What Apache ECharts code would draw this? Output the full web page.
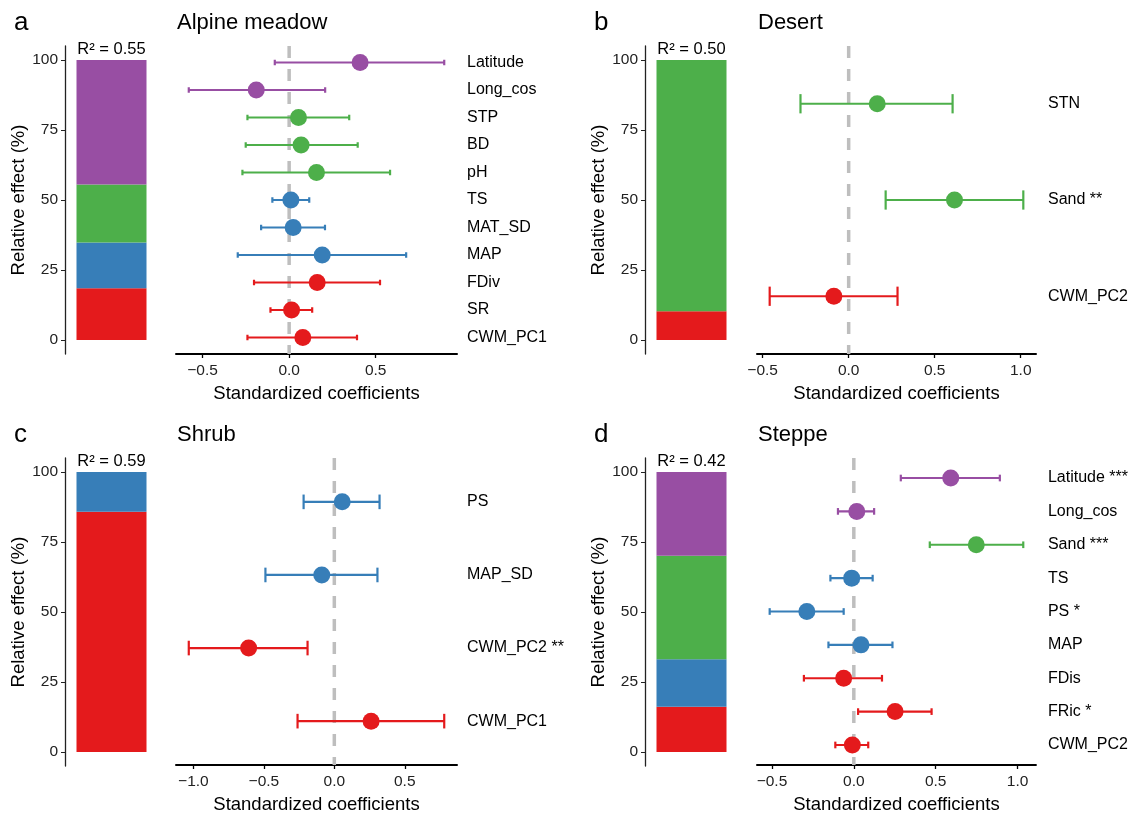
<!DOCTYPE html>
<html>
<head>
<meta charset="utf-8">
<script src="https://cdn.jsdelivr.net/npm/echarts@6.0.0/dist/echarts.min.js"></script>
<style>
html, body { margin: 0; padding: 0; background: #fff; }
#chart { width: 1131px; height: 815px; }
</style>
</head>
<body>
<div id="chart"></div>
<script>
var FONT = '"Liberation Sans", Arial, Helvetica, sans-serif';
// groups, bottom to top of the stacked bar
var GROUPS = ['plant', 'climate', 'soil', 'space'];
var COLORS = { plant: '#E41A1C', climate: '#377EB8', soil: '#4DAF4A', space: '#984EA3' };

// a  Alpine meadow
var aVars  = ['Latitude', 'Long_cos', 'STP', 'BD', 'pH', 'TS', 'MAT_SD', 'MAP', 'FDiv', 'SR', 'CWM_PC1'];
var aSig   = ['', '', '', '', '', '', '', '', '', '', ''];
var aGroup = ['space', 'space', 'soil', 'soil', 'soil', 'climate', 'climate', 'climate', 'plant', 'plant', 'plant'];
var aEst   = [0.41, -0.19, 0.054, 0.069, 0.158, 0.01, 0.023, 0.191, 0.162, 0.014, 0.079];
var aLow   = [-0.083, -0.58, -0.241, -0.251, -0.27, -0.097, -0.162, -0.297, -0.203, -0.108, -0.241];
var aHigh  = [0.896, 0.208, 0.347, 0.396, 0.583, 0.116, 0.207, 0.676, 0.525, 0.133, 0.392];
var aShare = [18.5, 16.3, 20.7, 44.5];
var aR2    = '0.55';
var aTicks = [-0.5, 0, 0.5];

// b  Desert
var bVars  = ['STN', 'Sand', 'CWM_PC2'];
var bSig   = ['', '**', ''];
var bGroup = ['soil', 'soil', 'plant'];
var bEst   = [0.166, 0.615, -0.086];
var bLow   = [-0.28, 0.215, -0.459];
var bHigh  = [0.604, 1.015, 0.284];
var bShare = [10.3, 0, 89.7, 0];
var bR2    = '0.50';
var bTicks = [-0.5, 0, 0.5, 1.0];

// c  Shrub
var cVars  = ['PS', 'MAP_SD', 'CWM_PC2', 'CWM_PC1'];
var cSig   = ['', '', '**', ''];
var cGroup = ['climate', 'climate', 'plant', 'plant'];
var cEst   = [0.056, -0.089, -0.608, 0.261];
var cLow   = [-0.218, -0.489, -1.033, -0.261];
var cHigh  = [0.321, 0.306, -0.19, 0.78];
var cShare = [85.8, 14.2, 0, 0];
var cR2    = '0.59';
var cTicks = [-1.0, -0.5, 0, 0.5];

// d  Steppe
var dVars  = ['Latitude', 'Long_cos', 'Sand', 'TS', 'PS', 'MAP', 'FDis', 'FRic', 'CWM_PC2'];
var dSig   = ['***', '', '***', '', '*', '', '', '*', ''];
var dGroup = ['space', 'space', 'soil', 'climate', 'climate', 'climate', 'plant', 'plant', 'plant'];
var dEst   = [0.592, 0.018, 0.748, -0.013, -0.287, 0.044, -0.062, 0.252, -0.009];
var dLow   = [0.287, -0.097, 0.464, -0.143, -0.514, -0.155, -0.305, 0.026, -0.113];
var dHigh  = [0.892, 0.124, 1.035, 0.115, -0.062, 0.236, 0.172, 0.475, 0.088];
var dShare = [16.2, 16.9, 37.0, 29.9];
var dR2    = '0.42';
var dTicks = [-0.5, 0, 0.5, 1.0];

// layout: bar axis x, forest left, forest right, top, bottom
var panels = [
    { letter: 'a', title: 'Alpine meadow', vars: aVars, sig: aSig, group: aGroup, est: aEst, lo: aLow, hi: aHigh, share: aShare, r2: aR2, ticks: aTicks, box: [65, 176, 457, 46, 354], labelGap: 10 },
    { letter: 'b', title: 'Desert', vars: bVars, sig: bSig, group: bGroup, est: bEst, lo: bLow, hi: bHigh, share: bShare, r2: bR2, ticks: bTicks, box: [645, 757, 1036, 46, 354], labelGap: 12 },
    { letter: 'c', title: 'Shrub', vars: cVars, sig: cSig, group: cGroup, est: cEst, lo: cLow, hi: cHigh, share: cShare, r2: cR2, ticks: cTicks, box: [65, 176, 457, 458, 766], labelGap: 10 },
    { letter: 'd', title: 'Steppe', vars: dVars, sig: dSig, group: dGroup, est: dEst, lo: dLow, hi: dHigh, share: dShare, r2: dR2, ticks: dTicks, box: [645, 757, 1036, 458, 766], labelGap: 12 }
];

function fmtTick(v) {
    var s = Math.abs(v).toFixed(1);
    return v < 0 ? '\u2212' + s : s;
}

function renderErrorBar(params, api) {
    var row = api.value(2);
    var lo = api.coord([api.value(0), row]);
    var hi = api.coord([api.value(1), row]);
    var capEdge = api.coord([api.value(0), row - 0.1]);
    var h = Math.abs(lo[1] - capEdge[1]);
    var style = { stroke: api.visual('color'), lineWidth: 2.2, fill: null };
    return {
        type: 'group',
        children: [
            { type: 'line', shape: { x1: lo[0], y1: lo[1], x2: hi[0], y2: hi[1] }, style: style },
            { type: 'line', shape: { x1: lo[0], y1: lo[1] - h, x2: lo[0], y2: lo[1] + h }, style: style },
            { type: 'line', shape: { x1: hi[0], y1: hi[1] - h, x2: hi[0], y2: hi[1] + h }, style: style }
        ]
    };
}

var titles = [], grids = [], xAxes = [], yAxes = [], series = [];

panels.forEach(function (p, i) {
    var b = p.box;
    var n = p.vars.length;
    var bi = 2 * i, fi = 2 * i + 1;

    titles.push({ text: p.letter, left: b[0] - 51, top: b[3] - 36, padding: 0,
        textStyle: { fontFamily: FONT, fontSize: 26, fontWeight: 'normal', color: '#000' } });
    titles.push({ text: p.title, left: b[1] + 1, top: b[3] - 34, padding: 0,
        textStyle: { fontFamily: FONT, fontSize: 22, fontWeight: 'normal', color: '#000' } });

    // stacked relative-effect bar
    grids.push({ left: b[0], top: b[3], width: 93, height: b[4] - b[3] });
    xAxes.push({ type: 'category', gridIndex: bi, data: [''], show: false });
    yAxes.push({
        type: 'value', gridIndex: bi, min: -5, max: 105,
        name: 'Relative effect (%)', nameLocation: 'middle', nameGap: 37, nameRotate: 90,
        nameTextStyle: { fontFamily: FONT, fontSize: 18.5, color: '#000' },
        axisLine: { show: true, lineStyle: { color: '#222', width: 1.3 } },
        axisTick: { show: true, length: 4, customValues: [0, 25, 50, 75, 100], lineStyle: { color: '#222' } },
        axisLabel: { customValues: [0, 25, 50, 75, 100], margin: 7, fontFamily: FONT, fontSize: 15.5, color: '#222' },
        splitLine: { show: false }
    });
    var topIdx = -1;
    p.share.forEach(function (v, k) { if (v > 0) topIdx = k; });
    GROUPS.forEach(function (g, k) {
        series.push({
            type: 'bar', xAxisIndex: bi, yAxisIndex: bi, stack: 'rel' + i,
            data: [p.share[k]], barWidth: 70,
            itemStyle: { color: COLORS[g] },
            label: {
                show: k === topIdx, position: 'top', distance: 2,
                formatter: 'R\u00b2 = ' + p.r2,
                fontFamily: FONT, fontSize: 16.5, color: '#000'
            }
        });
    });

    // coefficient plot
    var lo = Math.min.apply(null, p.lo), hi = Math.max.apply(null, p.hi);
    var pad = (hi - lo) * 0.05;
    grids.push({ left: b[1], top: b[3], width: b[2] - b[1], height: b[4] - b[3] });
    xAxes.push({
        type: 'value', gridIndex: fi, min: lo - pad, max: hi + pad,
        name: 'Standardized coefficients', nameLocation: 'middle', nameGap: 30,
        nameTextStyle: { fontFamily: FONT, fontSize: 18.5, color: '#000' },
        axisLine: { show: true, onZero: false, lineStyle: { color: '#000', width: 2 } },
        axisTick: { show: true, length: 4, customValues: p.ticks, lineStyle: { color: '#000', width: 1.3 } },
        axisLabel: { customValues: p.ticks, formatter: fmtTick, margin: 9, fontFamily: FONT, fontSize: 15.5, color: '#222' },
        splitLine: { show: false }
    });
    var rows = p.vars.map(function (v, k) { return k + 1; });
    yAxes.push({
        type: 'value', gridIndex: fi, min: 0.4, max: n + 0.6, inverse: true, position: 'right',
        axisLine: { show: false }, axisTick: { show: false }, splitLine: { show: false },
        axisLabel: {
            customValues: rows, margin: p.labelGap, fontFamily: FONT, fontSize: 16, color: '#000',
            formatter: function (v) { var k = Math.round(v) - 1; return p.vars[k] + (p.sig[k] ? ' ' + p.sig[k] : ''); }
        }
    });

    series.push({
        type: 'line', xAxisIndex: fi, yAxisIndex: fi, z: 1, silent: true, symbol: 'none',
        data: [[0, 0.4], [0, n + 0.6]],
        lineStyle: { color: '#BEBEBE', width: 3.5, type: [12, 11] }
    });
    series.push({
        type: 'custom', xAxisIndex: fi, yAxisIndex: fi, z: 2, renderItem: renderErrorBar,
        encode: { x: [0, 1], y: 2 },
        data: p.vars.map(function (v, k) {
            return { value: [p.lo[k], p.hi[k], k + 1], itemStyle: { color: COLORS[p.group[k]] } };
        })
    });
    series.push({
        type: 'scatter', xAxisIndex: fi, yAxisIndex: fi, z: 3, symbolSize: 17,
        data: p.vars.map(function (v, k) {
            return { value: [p.est[k], k + 1], itemStyle: { color: COLORS[p.group[k]], opacity: 1 } };
        })
    });
});

var myChart = echarts.init(document.getElementById('chart'));
myChart.setOption({
    animation: false,
    backgroundColor: '#fff',
    title: titles,
    grid: grids,
    xAxis: xAxes,
    yAxis: yAxes,
    series: series
});
</script>
</body>
</html>
